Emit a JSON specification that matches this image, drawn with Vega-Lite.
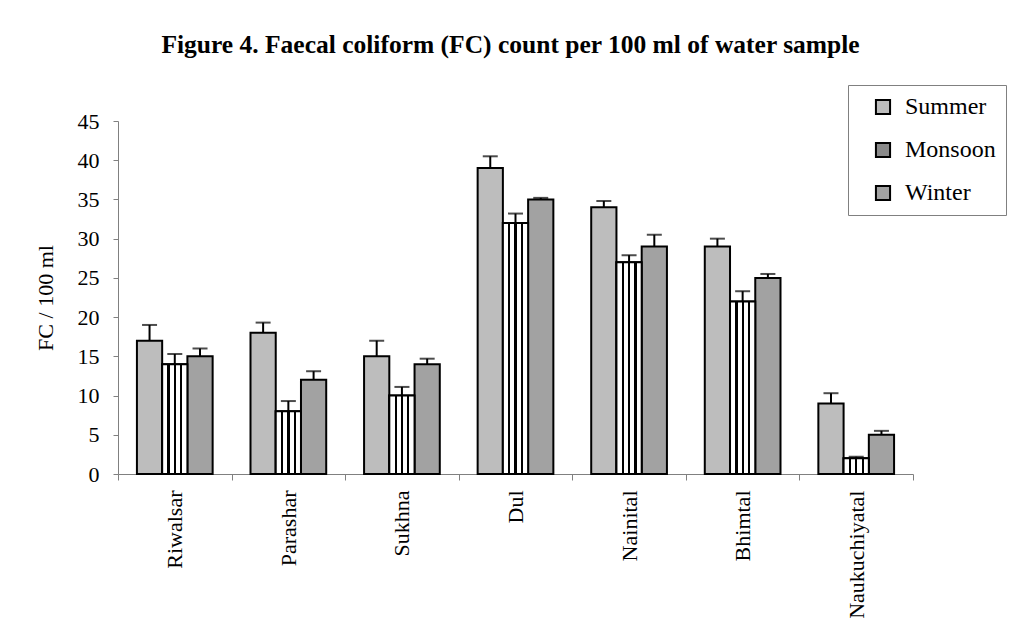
{
  "$schema": "https://vega.github.io/schema/vega-lite/v6.json",
  "autosize": {"type": "none"},
  "padding": {"left": 118, "top": 121, "right": 97, "bottom": 162},
  "width": 795,
  "height": 353,
  "background": "white",
  "title": {
    "text": "Figure 4. Faecal coliform (FC) count per 100 ml of water sample",
    "font": "Liberation Serif",
    "fontSize": 25.5,
    "fontWeight": "bold",
    "color": "black",
    "anchor": "middle",
    "offset": 62,
    "dy": 36,
    "dx": -5
  },
  "data": {
    "values": [
      {"site": "Riwalsar", "season": "Summer", "fc": 17, "upper": 19.0},
      {"site": "Riwalsar", "season": "Monsoon", "fc": 14, "upper": 15.3},
      {"site": "Riwalsar", "season": "Winter", "fc": 15, "upper": 16.0},
      {"site": "Parashar", "season": "Summer", "fc": 18, "upper": 19.3},
      {"site": "Parashar", "season": "Monsoon", "fc": 8, "upper": 9.3},
      {"site": "Parashar", "season": "Winter", "fc": 12, "upper": 13.1},
      {"site": "Sukhna", "season": "Summer", "fc": 15, "upper": 17.0},
      {"site": "Sukhna", "season": "Monsoon", "fc": 10, "upper": 11.1},
      {"site": "Sukhna", "season": "Winter", "fc": 14, "upper": 14.7},
      {"site": "Dul", "season": "Summer", "fc": 39, "upper": 40.5},
      {"site": "Dul", "season": "Monsoon", "fc": 32, "upper": 33.2},
      {"site": "Dul", "season": "Winter", "fc": 35, "upper": 35.2},
      {"site": "Nainital", "season": "Summer", "fc": 34, "upper": 34.8},
      {"site": "Nainital", "season": "Monsoon", "fc": 27, "upper": 27.9},
      {"site": "Nainital", "season": "Winter", "fc": 29, "upper": 30.5},
      {"site": "Bhimtal", "season": "Summer", "fc": 29, "upper": 30.0},
      {"site": "Bhimtal", "season": "Monsoon", "fc": 22, "upper": 23.3},
      {"site": "Bhimtal", "season": "Winter", "fc": 25, "upper": 25.5},
      {"site": "Naukuchiyatal", "season": "Summer", "fc": 9, "upper": 10.3},
      {"site": "Naukuchiyatal", "season": "Monsoon", "fc": 2, "upper": 2.2},
      {"site": "Naukuchiyatal", "season": "Winter", "fc": 5, "upper": 5.5}
    ]
  },
  "encoding": {
    "x": {
      "field": "site",
      "type": "nominal",
      "sort": ["Riwalsar", "Parashar", "Sukhna", "Dul", "Nainital", "Bhimtal", "Naukuchiyatal"],
      "scale": {"paddingInner": 0, "paddingOuter": 0},
      "axis": {
        "title": null,
        "labelAngle": -90,
        "labelFont": "Liberation Serif",
        "labelFontSize": 22,
        "labelColor": "black",
        "labelPadding": 10,
        "tickBand": "extent",
        "tickSize": 6,
        "tickColor": "#808080",
        "domainColor": "#808080",
        "grid": false
      }
    },
    "xOffset": {
      "field": "season",
      "type": "nominal",
      "sort": ["Summer", "Monsoon", "Winter"],
      "scale": {"paddingInner": 0, "paddingOuter": 0.75}
    },
    "y": {
      "field": "fc",
      "type": "quantitative",
      "scale": {"domain": [0, 45], "nice": false},
      "axis": {
        "title": "FC / 100 ml",
        "values": [0, 5, 10, 15, 20, 25, 30, 35, 40, 45],
        "labelOverlap": false,
        "grid": false,
        "labelFont": "Liberation Serif",
        "labelFontSize": 22,
        "labelColor": "black",
        "labelPadding": 14,
        "tickSize": 5,
        "tickColor": "#808080",
        "domainColor": "#808080",
        "titleFont": "Liberation Serif",
        "titleFontSize": 22,
        "titleFontWeight": "normal",
        "titleColor": "black",
        "titlePadding": 20
      }
    }
  },
  "layer": [
    {
      "mark": {"type": "bar", "stroke": "black", "strokeWidth": 2},
      "encoding": {
        "color": {
          "field": "season",
          "type": "nominal",
          "sort": ["Summer", "Monsoon", "Winter"],
          "scale": {"domain": ["Summer", "Monsoon", "Winter"], "range": ["#bdbdbd", "#8a8a8a", "#a2a2a2"]},
          "legend": {
            "title": null,
            "orient": "none",
            "legendX": 730,
            "legendY": -36,
            "padding": 10,
            "strokeColor": "#808080",
            "fillColor": "white",
            "symbolType": "square",
            "symbolSize": 200,
            "symbolStrokeColor": "black",
            "symbolStrokeWidth": 2,
            "symbolOffset": 13,
            "labelOffset": 10,
            "labelFont": "Liberation Serif",
            "labelFontSize": 24,
            "labelColor": "black",
            "rowPadding": 19
          }
        }
      }
    },
    {
      "transform": [{"filter": "datum.season === 'Monsoon'"}],
      "mark": {
        "type": "bar",
        "stroke": "black",
        "strokeWidth": 2,
        "fill": {
          "gradient": "linear",
          "x1": 0, "y1": 0, "x2": 1, "y2": 0,
          "stops": [
            {"offset": 0, "color": "white"},
            {"offset": 0.21, "color": "white"},
            {"offset": 0.21, "color": "black"},
            {"offset": 0.30, "color": "black"},
            {"offset": 0.30, "color": "white"},
            {"offset": 0.46, "color": "white"},
            {"offset": 0.46, "color": "black"},
            {"offset": 0.55, "color": "black"},
            {"offset": 0.55, "color": "white"},
            {"offset": 0.71, "color": "white"},
            {"offset": 0.71, "color": "black"},
            {"offset": 0.80, "color": "black"},
            {"offset": 0.80, "color": "white"},
            {"offset": 1, "color": "white"}
          ]
        }
      },
      "encoding": {}
    },
    {
      "mark": {"type": "rule", "color": "black", "strokeWidth": 2},
      "encoding": {
        "y2": {"field": "upper"}
      }
    },
    {
      "mark": {"type": "tick", "color": "black", "thickness": 2, "size": 15, "orient": "horizontal"},
      "encoding": {
        "y": {"field": "upper", "type": "quantitative"}
      }
    }
  ],
  "config": {
    "view": {"stroke": null},
    "font": "Liberation Serif"
  }
}
